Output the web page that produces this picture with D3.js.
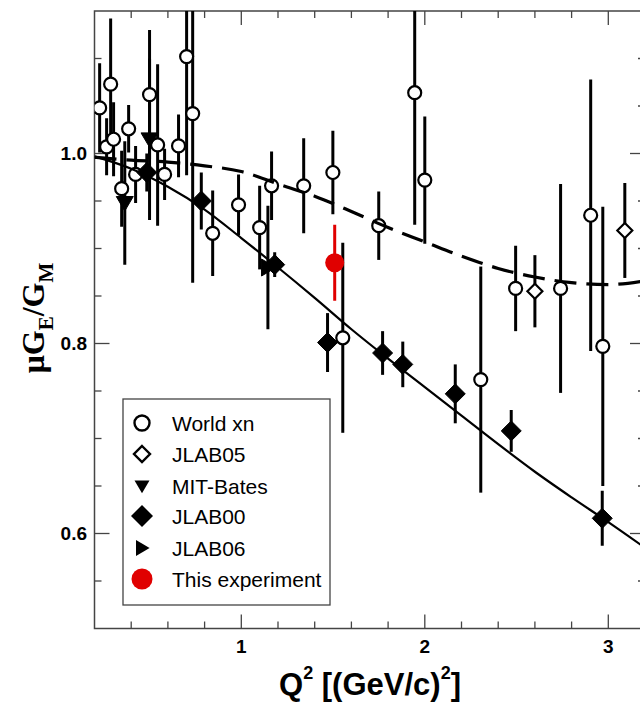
<!DOCTYPE html>
<html><head><meta charset="utf-8">
<script src="https://cdn.jsdelivr.net/npm/d3@7"></script>
<style>body{margin:0;background:#fff}svg{display:block}</style>
</head><body>
<svg id="chart" width="640" height="702"></svg>
<script>
// ---- data ----
const worldQ2  = [0.228,0.266,0.288,0.304,0.348,0.386,0.424,0.500,0.544,0.582,0.658,0.702,0.735,0.844,0.985,1.100,1.165,1.340,1.499,1.553,1.749,1.945,2.000,2.305,2.495,2.740,2.904,2.970];
const worldR   = [1.048,1.007,1.073,1.015,0.963,1.026,0.978,1.062,1.009,0.978,1.008,1.102,1.042,0.916,0.946,0.922,0.966,0.966,0.980,0.806,0.924,1.064,0.972,0.762,0.858,0.858,0.935,0.797];
const worldErr = [0.047,0.030,0.069,0.039,0.040,0.025,0.030,0.068,0.085,0.027,0.033,0.125,0.178,0.045,0.032,0.044,0.036,0.050,0.044,0.100,0.036,0.139,0.067,0.119,0.045,0.110,0.143,0.147];

const jlab05Q2  = [2.60, 3.09];
const jlab05R   = [0.855, 0.919];
const jlab05Err = [0.038, 0.050];

const batesQ2  = [0.365, 0.500];
const batesR   = [0.948, 1.015];
const batesErr = [0.065, 0.085];

const jlab00Q2  = [0.485,0.782,1.182,1.470,1.770,1.880,2.166,2.471,2.967];
const jlab00R   = [0.980,0.950,0.883,0.801,0.790,0.778,0.747,0.708,0.616];
const jlab00Err = [0.020,0.030,0.013,0.031,0.023,0.024,0.031,0.022,0.029];

const jlab06Q2  = [1.145];
const jlab06R   = [0.880];
const jlab06Err = [0.065];

const thisQ2  = [1.509];
const thisR   = [0.885];
const thisErr = [0.040];

const solidQ2 = [0.2,0.4,0.6,0.8,1.0,1.2,1.4,1.6,1.8,2.0,2.2,2.4,2.6,2.8,3.0,3.2];
const solidR  = [0.997,0.984,0.965,0.941,0.911,0.880,0.848,0.815,0.784,0.754,0.724,0.694,0.665,0.638,0.612,0.585];
const dashQ2  = [0.2,0.4,0.6,0.8,1.0,1.2,1.4,1.6,1.8,2.0,2.2,2.4,2.6,2.8,3.0,3.2];
const dashR   = [0.996,0.993,0.991,0.987,0.981,0.968,0.955,0.939,0.922,0.907,0.892,0.879,0.870,0.864,0.862,0.866];

const xMajor = [1,2,3];
const xMajorLabels = ["1","2","3"];
const yMajor = [0.6,0.8,1.0];
const yMajorLabels = ["0.6","0.8","1.0"];
const legendLabels = ["World xn","JLAB05","MIT-Bates","JLAB00","JLAB06","This experiment"];

// ---- layout ----
const svg = d3.select("#chart");
const L = 94.5, R = 645, T = 11, B = 628.5;
const x = d3.scaleLinear().domain([0.2, 3.2]).range([L, R]);
const y = d3.scaleLinear().domain([0.5, 1.15]).range([B, T]);
const SANS = "'Liberation Sans', Arial, Helvetica, sans-serif";

svg.append("defs").append("clipPath").attr("id","clip")
  .append("rect").attr("x",L).attr("y",T).attr("width",R-L).attr("height",B-T);

// frame
svg.append("rect").attr("x",L).attr("y",T).attr("width",R-L).attr("height",B-T)
  .attr("fill","none").attr("stroke","#444").attr("stroke-width",1.5);

// ticks
const xMinor = d3.range(0.4, 3.2, 0.2).filter(v => Math.abs(v - Math.round(v)) > 1e-6);
const yMinor = d3.range(0.55, 1.15, 0.05).filter(v => !yMajor.some(m => Math.abs(m-v) < 1e-6));
const tk = svg.append("g").attr("stroke","#444").attr("stroke-width",1.3);
function xt(vals, len){
  vals.forEach(v=>{
    tk.append("line").attr("x1",x(v)).attr("x2",x(v)).attr("y1",B).attr("y2",B-len);
    tk.append("line").attr("x1",x(v)).attr("x2",x(v)).attr("y1",T).attr("y2",T+len);
  });
}
function yt(vals, len){
  vals.forEach(v=>{
    tk.append("line").attr("x1",L).attr("x2",L+len).attr("y1",y(v)).attr("y2",y(v));
    tk.append("line").attr("x1",R).attr("x2",R-len).attr("y1",y(v)).attr("y2",y(v));
  });
}
xt(xMinor, 7); xt(xMajor, 14);
yt(yMinor, 7); yt(yMajor, 15);

// tick labels
svg.append("g").selectAll("text").data(xMajor).join("text")
  .attr("x", d=>x(d)).attr("y", B+24).attr("text-anchor","middle")
  .attr("font-family",SANS).attr("font-weight","bold").attr("font-size",19)
  .text((d,i)=>xMajorLabels[i]);
svg.append("g").selectAll("text").data(yMajor).join("text")
  .attr("x", 87).attr("y", d=>y(d)).attr("dy","0.36em").attr("text-anchor","end")
  .attr("font-family",SANS).attr("font-weight","bold").attr("font-size",19)
  .text((d,i)=>yMajorLabels[i]);

// axis titles
const xtTxt = svg.append("text").attr("x",370).attr("y",695).attr("text-anchor","middle")
  .attr("font-family",SANS).attr("font-weight","bold").attr("font-size",31);
xtTxt.append("tspan").text("Q");
xtTxt.append("tspan").attr("font-size",18).attr("dy",-16).text("2");
xtTxt.append("tspan").attr("dy",16).text(" [(GeV/c)");
xtTxt.append("tspan").attr("font-size",18).attr("dy",-16).text("2");
xtTxt.append("tspan").attr("dy",16).text("]");

const ytTxt = svg.append("text").attr("transform","translate(44,318) rotate(-90)")
  .attr("text-anchor","middle")
  .attr("font-family","'Liberation Serif', 'Times New Roman', serif").attr("font-weight","bold").attr("font-size",32);
ytTxt.append("tspan").text("\u03BCG");
ytTxt.append("tspan").attr("font-size",21).attr("dy",9).text("E");
ytTxt.append("tspan").attr("dy",-9).text("/G");
ytTxt.append("tspan").attr("font-size",21).attr("dy",9).text("M");

// ---- data layer ----
const g = svg.append("g").attr("clip-path","url(#clip)");

function zip(q, r, e){ return q.map((v,i)=>({q:v, r:r[i], e:e[i]})); }
function bars(data, color){
  g.append("g").selectAll("line").data(data).join("line")
    .attr("x1",d=>x(d.q)).attr("x2",d=>x(d.q))
    .attr("y1",d=>y(d.r+d.e)).attr("y2",d=>y(d.r-d.e))
    .attr("stroke",color).attr("stroke-width",3);
}
const world = zip(worldQ2, worldR, worldErr);
const j05 = zip(jlab05Q2, jlab05R, jlab05Err);
const bates = zip(batesQ2, batesR, batesErr);
const j00 = zip(jlab00Q2, jlab00R, jlab00Err);
const j06 = zip(jlab06Q2, jlab06R, jlab06Err);
const thisExp = zip(thisQ2, thisR, thisErr);

bars(world,"#000"); bars(j05,"#000"); bars(bates,"#000"); bars(j00,"#000"); bars(j06,"#000");

const diamond = s => `M0,${-s}L${s},0L0,${s}L${-s},0Z`;
const triDown = s => `M${-s},${-s*0.75}L${s},${-s*0.75}L0,${s*0.95}Z`;
const triRight = s => `M${-s*0.75},${-s}L${s*0.95},0L${-s*0.75},${s}Z`;

function markers(data, path, fill, stroke, sw){
  g.append("g").selectAll("path").data(data).join("path")
    .attr("transform",d=>`translate(${x(d.q)},${y(d.r)})`)
    .attr("d",path).attr("fill",fill).attr("stroke",stroke).attr("stroke-width",sw);
}
g.append("g").selectAll("circle").data(world).join("circle")
  .attr("cx",d=>x(d.q)).attr("cy",d=>y(d.r)).attr("r",6.5)
  .attr("fill","#fff").attr("stroke","#000").attr("stroke-width",2.2);
markers(j05, diamond(7.5), "#fff", "#000", 2.2);
markers(bates, triDown(8.5), "#000", "#000", 1);
markers(j00, diamond(10), "#000", "#000", 1);
markers(j06, triRight(8.5), "#000", "#000", 1);

// curves
const line = d3.line().x(d=>x(d[0])).y(d=>y(d[1])).curve(d3.curveMonotoneX);
g.append("path").datum(dashQ2.map((v,i)=>[v,dashR[i]])).attr("d",line)
  .attr("fill","none").attr("stroke","#000").attr("stroke-width",3.2).attr("stroke-dasharray","22,10");
g.append("path").datum(solidQ2.map((v,i)=>[v,solidR[i]])).attr("d",line)
  .attr("fill","none").attr("stroke","#000").attr("stroke-width",2.2);

// this experiment
bars(thisExp,"#e00000");
g.append("g").selectAll("circle").data(thisExp).join("circle")
  .attr("cx",d=>x(d.q)).attr("cy",d=>y(d.r)).attr("r",9.5).attr("fill","#e00000");

// ---- legend ----
const lg = svg.append("g");
lg.append("rect").attr("x",123).attr("y",399).attr("width",207).attr("height",206)
  .attr("fill","#fff").attr("stroke","#444").attr("stroke-width",1.3);
const rowY = [423,454,486,516,548,579];
const sym = lg.append("g");
sym.append("circle").attr("cx",142).attr("cy",rowY[0]).attr("r",7.5).attr("fill","#fff").attr("stroke","#000").attr("stroke-width",2.4);
sym.append("path").attr("transform",`translate(142,${rowY[1]})`).attr("d",diamond(8)).attr("fill","#fff").attr("stroke","#000").attr("stroke-width",2.4);
sym.append("path").attr("transform",`translate(142,${rowY[2]})`).attr("d",triDown(7.5)).attr("fill","#000");
sym.append("path").attr("transform",`translate(142,${rowY[3]})`).attr("d",diamond(11)).attr("fill","#000");
sym.append("path").attr("transform",`translate(142,${rowY[4]})`).attr("d",triRight(8)).attr("fill","#000");
sym.append("circle").attr("cx",142).attr("cy",rowY[5]).attr("r",10.5).attr("fill","#e00000");
lg.selectAll("text").data(legendLabels).join("text")
  .attr("x",172).attr("y",(d,i)=>rowY[i]).attr("dy","0.36em")
  .attr("font-family",SANS).attr("font-size",21).attr("fill","#000").text(d=>d);
</script>
</body></html>
